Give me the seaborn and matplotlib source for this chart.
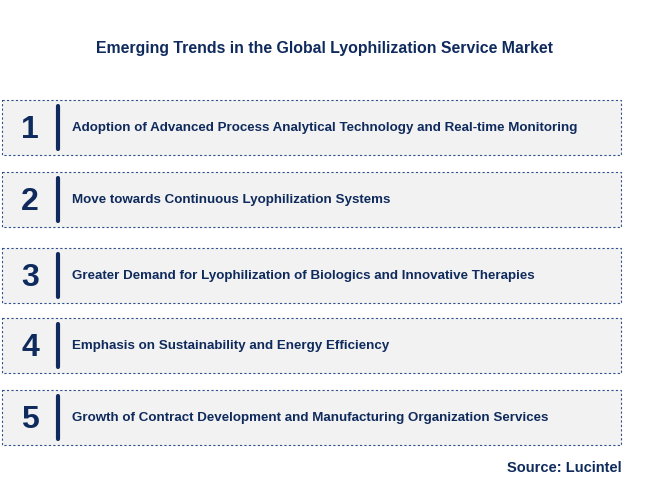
import matplotlib
matplotlib.use("Agg")
import matplotlib.pyplot as plt
from matplotlib.patches import Rectangle
import seaborn as sns

sns.set_theme(style="white")
plt.rcParams['font.family'] = ['Liberation Sans', 'DejaVu Sans']

title = "Emerging Trends in the Global Lyophilization Service Market"
numbers = ["1", "2", "3", "4", "5"]
trends = [
    "Adoption of Advanced Process Analytical Technology and Real-time Monitoring",
    "Move towards Continuous Lyophilization Systems",
    "Greater Demand for Lyophilization of Biologics and Innovative Therapies",
    "Emphasis on Sustainability and Energy Efficiency",
    "Growth of Contract Development and Manufacturing Organization Services",
]
source = "Source: Lucintel"

navy = "#0f2a5c"
tops = [100, 172, 248, 318, 390]
box_h = 55

fig = plt.figure(figsize=(6.48, 5.01), dpi=100)
ax = fig.add_axes([0, 0, 1, 1])
ax.set_xlim(0, 648)
ax.set_ylim(501, 0)
ax.axis("off")

ax.text(324, 48, title, ha="center", va="center", fontsize=11.4,
        fontweight="bold", color=navy)

for top, num, txt in zip(tops, numbers, trends):
    ax.add_patch(Rectangle((2, top), 619, box_h, facecolor="#f2f2f2",
                           edgecolor="#2f4f8f", linestyle=(0, (2, 2)), linewidth=0.8))
    mid = top + box_h / 2
    ax.text(30, mid + 2, num, ha="center", va="center", fontsize=23,
            fontweight="bold", color=navy)
    ax.plot([58, 58], [top + 6, top + box_h - 6], color=navy, linewidth=3)
    ax.text(72, mid, txt, ha="left", va="center", fontsize=9.6,
            fontweight="bold", color=navy)

ax.text(622, 468, source, ha="right", va="center", fontsize=10.5,
        fontweight="bold", color=navy)

fig.savefig("out.png", dpi=100)
